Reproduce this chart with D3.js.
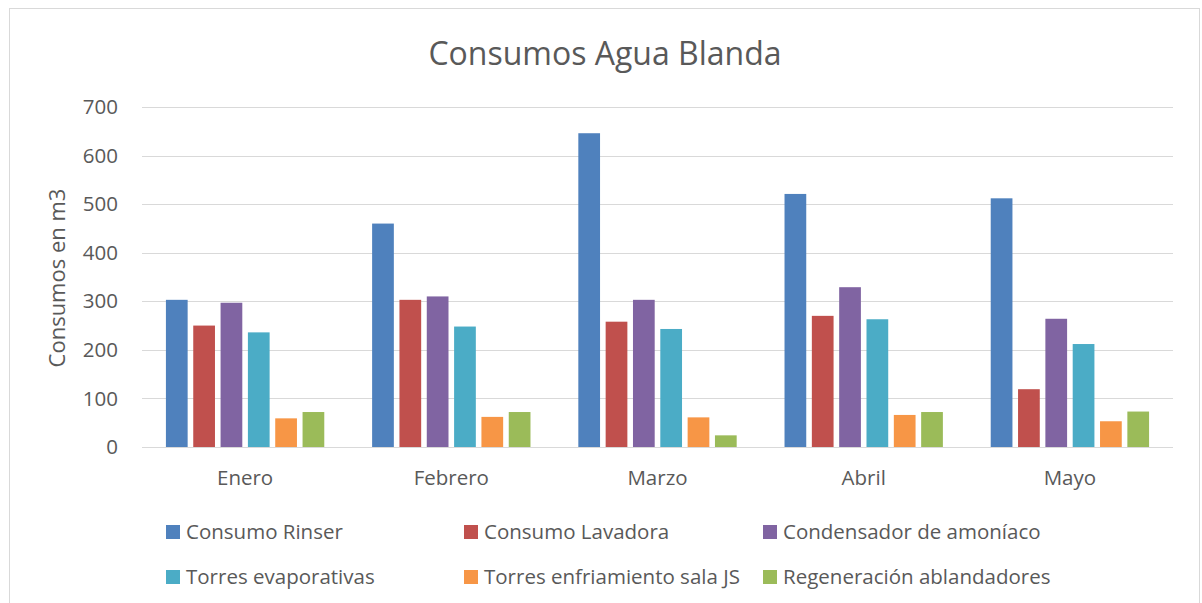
<!DOCTYPE html>
<html>
<head>
<meta charset="utf-8">
<script src="https://cdn.jsdelivr.net/npm/d3@7"></script>
<style>
  body { margin: 0; background: #fff; }
  text { font-family: "Open Sans", "Noto Sans", sans-serif; fill: #595959; }
</style>
</head>
<body>
<svg id="chart" width="1202" height="603"></svg>
<script>
// data
const months = ['Enero', 'Febrero', 'Marzo', 'Abril', 'Mayo'];
const seriesNames = ['Consumo Rinser', 'Consumo Lavadora', 'Condensador de amoníaco',
  'Torres evaporativas', 'Torres enfriamiento sala JS', 'Regeneración ablandadores'];
const rinser = [303, 460, 646, 521, 512];
const lavadora = [250, 303, 258, 270, 119];
const condensador = [297, 310, 303, 329, 264];
const torresEvap = [236, 248, 243, 263, 212];
const torresEnfr = [59, 62, 61, 66, 53];
const regeneracion = [72, 72, 24, 72, 73];
const yTicks = [0, 100, 200, 300, 400, 500, 600, 700];
const colors = ['#4F81BD', '#C0504D', '#8064A2', '#4BACC6', '#F79646', '#9BBB59'];

const seriesValues = [rinser, lavadora, condensador, torresEvap, torresEnfr, regeneracion];

const svg = d3.select('#chart');

// chart border
svg.append('rect')
  .attr('x', 9.5).attr('y', 8.5)
  .attr('width', 1190).attr('height', 600)
  .attr('fill', 'none')
  .attr('stroke', '#D9D9D9')
  .attr('stroke-width', 1);

svg.append('text')
  .attr('x', 605).attr('y', 65)
  .attr('text-anchor', 'middle')
  .attr('font-size', '32px')
  .text('Consumos Agua Blanda');

const plotLeft = 142, plotRight = 1173, plotTop = 107, plotBottom = 447;

const y = d3.scaleLinear().domain([0, 700]).range([plotBottom, plotTop]);
const x0 = d3.scaleBand().domain(months).range([plotLeft, plotRight]).padding(0);
const x1 = d3.scaleBand().domain(d3.range(6))
  .range([x0.bandwidth() * 0.116, x0.bandwidth() * 0.884])
  .paddingInner(0.205).paddingOuter(0);

// gridlines
svg.append('g').selectAll('line')
  .data(yTicks)
  .enter().append('line')
  .attr('x1', plotLeft).attr('x2', plotRight)
  .attr('y1', d => Math.round(y(d)) + 0.5)
  .attr('y2', d => Math.round(y(d)) + 0.5)
  .attr('stroke', '#D9D9D9')
  .attr('stroke-width', 1.2);

// y tick labels
svg.append('g').selectAll('text')
  .data(yTicks)
  .enter().append('text')
  .attr('x', 118)
  .attr('y', d => y(d))
  .attr('dy', '0.35em')
  .attr('text-anchor', 'end')
  .attr('font-size', '20.5px')
  .text(d => d);

svg.append('text')
  .attr('transform', 'translate(57,278) rotate(-90)')
  .attr('text-anchor', 'middle')
  .attr('dy', '0.35em')
  .attr('font-size', '22px')
  .text('Consumos en m3');

// bars
const groups = svg.append('g').selectAll('g')
  .data(months)
  .enter().append('g')
  .attr('transform', d => 'translate(' + x0(d) + ',0)');

groups.selectAll('rect')
  .data((m, i) => seriesValues.map((vals, s) => ({ s: s, v: vals[i] })))
  .enter().append('rect')
  .attr('x', d => x1(d.s))
  .attr('width', x1.bandwidth())
  .attr('y', d => y(d.v))
  .attr('height', d => y(0) - y(d.v))
  .attr('fill', d => colors[d.s]);

// month labels
svg.append('g').selectAll('text')
  .data(months)
  .enter().append('text')
  .attr('x', d => x0(d) + x0.bandwidth() / 2)
  .attr('y', 478)
  .attr('dy', '0.35em')
  .attr('text-anchor', 'middle')
  .attr('font-size', '20.5px')
  .text(d => d);

// legend
const legendX = [166, 464, 763];
const legendY = [532, 577];
const legend = svg.append('g').selectAll('g')
  .data(seriesNames)
  .enter().append('g')
  .attr('transform', (d, i) => 'translate(' + legendX[i % 3] + ',' + legendY[Math.floor(i / 3)] + ')');

legend.append('rect')
  .attr('x', 0).attr('y', -7)
  .attr('width', 14).attr('height', 14)
  .attr('fill', (d, i) => colors[i]);

legend.append('text')
  .attr('x', 20)
  .attr('dy', '0.35em')
  .attr('font-size', '20.5px')
  .text(d => d);
</script>
</body>
</html>
